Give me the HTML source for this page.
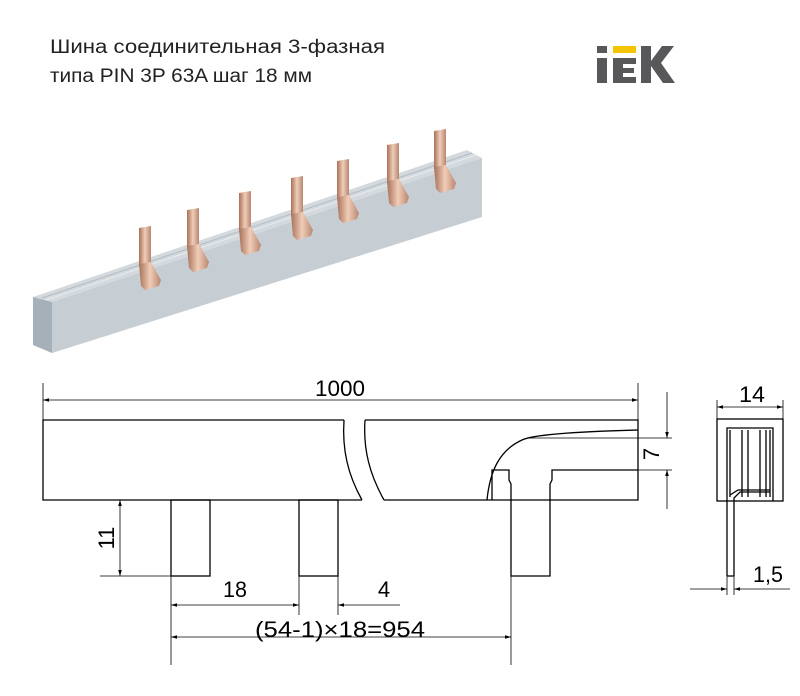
<!DOCTYPE html>
<html><head><meta charset="utf-8"><style>
body{margin:0;background:#fff;}
svg{display:block;font-family:"Liberation Sans",sans-serif;}
</style></head><body>
<svg width="800" height="696" viewBox="0 0 800 696" xmlns="http://www.w3.org/2000/svg">
<defs>
<linearGradient id="cu" x1="0" x2="1"><stop offset="0" stop-color="#a87058"/><stop offset=".5" stop-color="#f0cdb8"/><stop offset="1" stop-color="#b88670"/></linearGradient>
<marker id="a" viewBox="0 0 10 10" refX="10" refY="5" markerWidth="10" markerHeight="6" orient="auto-start-reverse" markerUnits="userSpaceOnUse"><path d="M0,2 L10,5 L0,8 z" fill="#000"/></marker>
<g id="pin"><polygon points="-6,0 6,-2 6,36 -6,38" fill="url(#cu)"/><polygon points="-6,36 6,34 16,52 14,58 0,62 -4,58" fill="url(#cu)"/></g>
</defs>
<text x="50" y="53" font-size="19" fill="#222" textLength="335" lengthAdjust="spacingAndGlyphs">Шина соединительная 3-фазная</text>
<text x="50" y="82" font-size="19" fill="#222" textLength="262" lengthAdjust="spacingAndGlyphs">типа PIN 3P 63A шаг 18 мм</text>
<!-- logo -->
<g fill="#58585a">
<rect x="597" y="46" width="10" height="7"/><rect x="597" y="58" width="10" height="25"/>
<path d="M613,58 H636 V64 H623 V68 H634 V73 H623 V77 H636 V83 H613 Z"/>
<path d="M641,46 H651 V61 L662,46 H674 L661,63 L675,83 H663 L651,66 V83 H641 Z"/>
</g>
<rect x="613" y="46" width="23" height="7" fill="#f5c400"/>
<!-- photo -->
<polygon points="33,297 467,150 482,158 52,302" fill="#d3d9dd"/>
<line x1="42" y1="298" x2="472" y2="153" stroke="#b3bcc3" stroke-width="1"/>
<line x1="46" y1="300" x2="476" y2="155" stroke="#e8ecef" stroke-width="1"/>
<polygon points="52,302 482,158 482,217 52,353" fill="#c6cdd3"/>
<polygon points="33,297 52,302 52,353 33,345" fill="#a6b0b8"/>
<use href="#pin" x="145" y="228"/>
<use href="#pin" x="193" y="210"/>
<use href="#pin" x="245" y="193"/>
<use href="#pin" x="297" y="178"/>
<use href="#pin" x="343" y="161"/>
<use href="#pin" x="393" y="145"/>
<use href="#pin" x="440" y="131"/>
<!-- drawing -->
<g fill="none" stroke="#000" stroke-width="1.3">
<path d="M344,420 H43 V500 H362"/>
<path d="M344,420 C342,450 348,475 362,500"/>
<path d="M365,420 C363,450 370,475 384,500"/>
<path d="M365,420 H638 V500 H384"/>
<path d="M638,430 C560,432 530,436 522,440 C500,450 490,470 487,500"/>
<path d="M492,500 V470 H509 V480 L511,484 V576 H550 V484 L552,480 V470 H638"/>
<rect x="171" y="500" width="39" height="76"/>
<rect x="299" y="500" width="39" height="76"/>
<rect x="717" y="419" width="66" height="82"/>
<path d="M727,501 V428 H773 V501"/>
<path d="M730,497 V430 M742,497 V430 M748,497 V430 M760,497 V430 M766,497 V430 M770,497 V430"/>
<path d="M730,495 L738,490 H770" />
<path d="M727,576 V501 M734,576 V498 L740,492 H770"/>
<path d="M727,576 H734"/>
</g>
<g fill="none" stroke="#000" stroke-width="0.8">
<line x1="43" y1="383" x2="43" y2="420"/><line x1="638" y1="383" x2="638" y2="420"/>
<line x1="43" y1="400" x2="638" y2="400" marker-start="url(#a)" marker-end="url(#a)"/>
<line x1="528" y1="438" x2="672" y2="438"/><line x1="638" y1="470" x2="672" y2="470"/>
<line x1="667" y1="392" x2="667" y2="438" marker-end="url(#a)"/>
<line x1="667" y1="509" x2="667" y2="470" marker-end="url(#a)"/>
<line x1="100" y1="576" x2="171" y2="576"/>
<line x1="120" y1="500" x2="120" y2="576" marker-start="url(#a)" marker-end="url(#a)"/>
<line x1="171" y1="576" x2="171" y2="665"/><line x1="299" y1="576" x2="299" y2="615"/><line x1="338" y1="576" x2="338" y2="615"/><line x1="511" y1="576" x2="511" y2="665"/>
<line x1="171" y1="605" x2="299" y2="605" marker-start="url(#a)" marker-end="url(#a)"/>
<line x1="400" y1="605" x2="338" y2="605" marker-end="url(#a)"/>
<line x1="171" y1="637" x2="511" y2="637" marker-start="url(#a)" marker-end="url(#a)"/>
<line x1="717" y1="400" x2="717" y2="419"/><line x1="783" y1="400" x2="783" y2="419"/>
<line x1="717" y1="407" x2="783" y2="407" marker-start="url(#a)" marker-end="url(#a)"/>
<line x1="727" y1="576" x2="727" y2="595"/><line x1="734" y1="576" x2="734" y2="595"/>
<line x1="690" y1="589" x2="727" y2="589" marker-end="url(#a)"/>
<line x1="790" y1="589" x2="734" y2="589" marker-end="url(#a)"/>
</g>
<g font-size="22" fill="#000" text-anchor="middle">
<text x="340" y="396" textLength="50" lengthAdjust="spacingAndGlyphs">1000</text>
<text x="235" y="597" textLength="24" lengthAdjust="spacingAndGlyphs">18</text>
<text x="384" y="597">4</text>
<text x="340" y="637" textLength="170" lengthAdjust="spacingAndGlyphs">(54-1)×18=954</text>
<text x="752" y="402" textLength="26" lengthAdjust="spacingAndGlyphs">14</text>
<text x="768" y="582" textLength="30" lengthAdjust="spacingAndGlyphs">1,5</text>
<text transform="translate(114,538) rotate(-90)">11</text>
<text transform="translate(659,454) rotate(-90)">7</text>
</g>
</svg>
</body></html>
